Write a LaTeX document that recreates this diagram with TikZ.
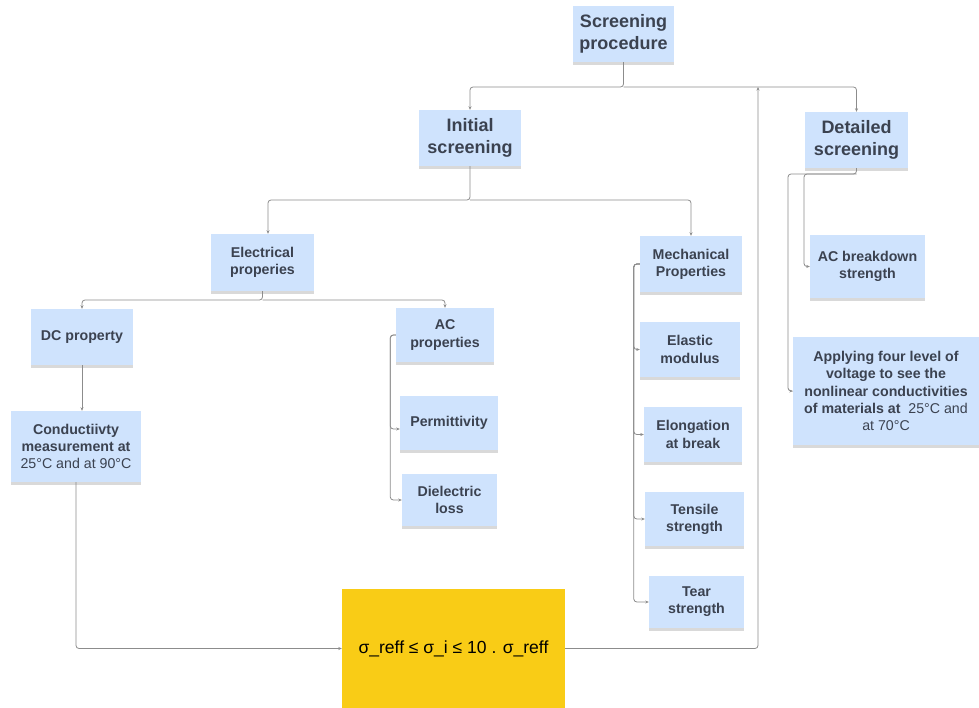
\documentclass[tikz,border=0pt]{standalone}
\usepackage{fontspec}
\setmainfont{Liberation Sans}
\usetikzlibrary{arrows.meta,shadows}
\definecolor{boxblue}{HTML}{CFE3FD}
\definecolor{txt}{HTML}{3B4250}
\definecolor{lin}{HTML}{8C8C8C}
\definecolor{yel}{HTML}{F9CC16}
\tikzset{
  box/.style={fill=boxblue, text=txt, align=center, inner sep=0pt,
    font=\fontsize{14.2}{17.2}\selectfont\bfseries,
    drop shadow={shadow xshift=0pt, shadow yshift=-3pt, opacity=0.3}},
  bigbox/.style={box, font=\fontsize{18}{22}\selectfont\bfseries},
  conn/.style={draw=lin, line width=0.8pt, rounded corners=3pt},
  arr/.style={conn, -{Stealth[length=3.5pt,width=3pt]}},
}
\begin{document}
\begin{tikzpicture}[x=1pt,y=-1pt]
\useasboundingbox (0,0) rectangle (979,708);
% nodes
\node[bigbox, minimum width=101pt, minimum height=56pt] (sp) at (623.5,34) {Screening\\procedure};
\node[bigbox, minimum width=102pt, minimum height=56pt] (is) at (470,138) {Initial\\screening};
\node[bigbox, minimum width=103pt, minimum height=56pt] (ds) at (856.5,140) {Detailed\\screening};
\node[box, minimum width=103pt, minimum height=57pt] (ep) at (262.5,262.5) {Electrical\\properies};
\node[box, minimum width=102pt, minimum height=56pt] (dc) at (82,337) {DC property};
\node[box, minimum width=98pt, minimum height=54pt] (ac) at (445,335) {AC\\properties};
\node[box, minimum width=98pt, minimum height=54pt] (pe) at (449,423) {Permittivity};
\node[box, minimum width=95pt, minimum height=52pt] (dl) at (449.5,500) {Dielectric\\loss};
\node[box, minimum width=130pt, minimum height=71pt] (cm) at (76,446.5) {Conductiivty\\measurement at\\{\mdseries 25°C and at 90°C}};
\node[box, minimum width=102pt, minimum height=56pt] (mp) at (691,264) {Mechanical\\Properties};
\node[box, minimum width=100pt, minimum height=55pt] (em) at (690,349.5) {Elastic\\modulus};
\node[box, minimum width=98pt, minimum height=55pt] (eb) at (693,434.5) {Elongation\\at break};
\node[box, minimum width=99pt, minimum height=54pt] (ts) at (694.5,519) {Tensile\\strength};
\node[box, minimum width=95pt, minimum height=52pt] (tr) at (696.5,602) {Tear\\strength};
\node[box, minimum width=115pt, minimum height=63pt] (ab) at (867.5,266.5) {AC breakdown\\strength};
\node[box, minimum width=186pt, minimum height=108pt] (ap) at (886,391) {Applying four level of\\voltage to see the\\nonlinear conductivities\\of materials at \ {\mdseries 25°C and}\\{\mdseries at 70°C}};
\node[fill=yel, minimum width=223pt, minimum height=119pt, inner sep=0pt, text=black,
  font=\fontsize{17.5}{21}\selectfont] (yb) at (453.5,648.5) {σ\_reff ≤ σ\_i ≤ 10 . σ\_reff};
% junctions
\coordinate (j0) at (623.5,87);
\coordinate (j1) at (758,87);
\coordinate (j2) at (470,200);
\coordinate (j3) at (262.5,300);
\coordinate (j4) at (856.5,174);
\coordinate (d1) at (804,174);
\coordinate (d2) at (788,174);
% connectors
\draw[arr] (sp.south) -- (j0) -| (is.north);
\draw[arr] (j0) -| (ds.north);
\draw[arr] (yb.east) -| (j1);
\draw[arr] (is.south) -- (j2) -| ([xshift=5.5pt]ep.north);
\draw[arr] (j2) -| (mp.north);
\draw[arr] (ep.south) -- (j3) -| (dc.north);
\draw[arr] (j3) -| (ac.north);
\draw[arr] (dc.south) -- (dc.south |- cm.north);
\draw[arr] (cm.south) |- (yb.west);
\draw[arr] (ac.west) -- ++(-5.5,0) |- ([yshift=-6pt]pe.west);
\draw[arr] (ac.west) -- ++(-5.5,0) |- (dl.west);
\draw[arr] (mp.west) -- ++(-6,0) |- (em.west);
\draw[arr] (mp.west) -- ++(-6,0) |- (eb.west);
\draw[arr] (mp.west) -- ++(-6,0) |- (ts.west);
\draw[arr] (mp.west) -- ++(-6,0) |- (tr.west);
\draw[arr] (ds.south) -- (j4) -- (d1) |- (ab.west);
\draw[arr] (j4) -- (d2) |- (ap.west);
\end{tikzpicture}
\end{document}
